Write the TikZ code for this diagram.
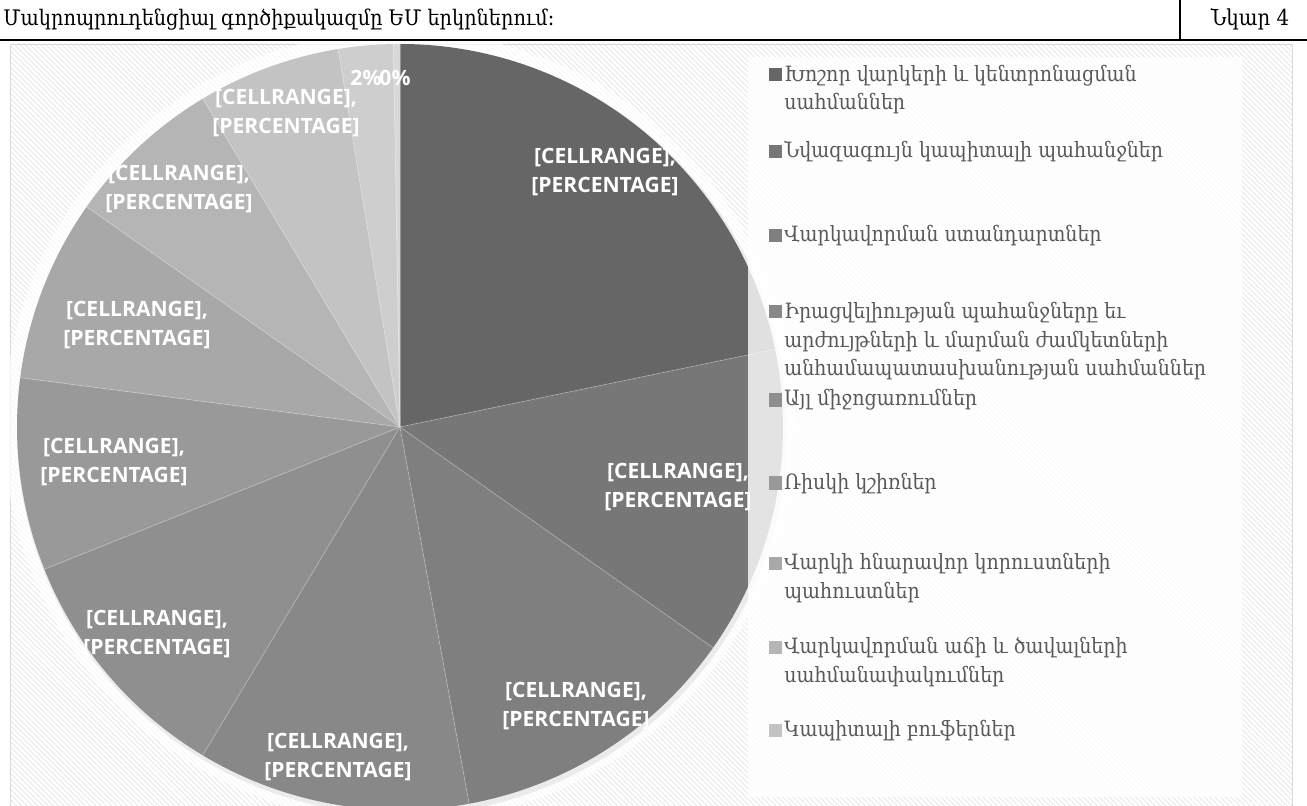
\documentclass[tikz,border=0pt]{standalone}
\usepackage{fontspec}
\setmainfont{DejaVu Serif Condensed}
\newfontfamily\lblfont{Open Sans}
\usetikzlibrary{patterns}

\definecolor{SliceA}{HTML}{666666}
\definecolor{SliceB}{HTML}{777777}
\definecolor{SliceC}{HTML}{7F7F7F}
\definecolor{SliceD}{HTML}{888888}
\definecolor{SliceE}{HTML}{8F8F8F}
\definecolor{SliceF}{HTML}{999999}
\definecolor{SliceG}{HTML}{A8A8A8}
\definecolor{SliceH}{HTML}{B5B5B5}
\definecolor{SliceI}{HTML}{C3C3C3}
\definecolor{SliceJ}{HTML}{CECECE}
\definecolor{SliceK}{HTML}{D8D8D8}
\definecolor{LegText}{HTML}{595959}

\newcommand\cellpct{[CELLRANGE],\\{}[PERCENTAGE]}

\tikzset{
  datalbl/.style={text=white, align=center, inner sep=0pt,
    font=\lblfont\bfseries\fontsize{12}{16.5}\selectfont},
  legsq/.style={minimum size=7.4pt, inner sep=0pt},
  legtxt/.style={text=LegText, align=left, inner sep=0pt, anchor=base west,
    font=\fontsize{12}{16.5}\selectfont}
}

\begin{document}
\begin{tikzpicture}[x=0.02cm, y=0.02cm]
 \useasboundingbox (0,0) rectangle (1307,805);

  %%%%%%%%%% Points to work with %%%%%%%%%%
 \coordinate (C) at (400,378);
 \coordinate (sepTop) at (1180,805);
 \coordinate (sepBot) at (1180,765);
 \coordinate (ruleW) at (0,765);
 \coordinate (ruleE) at (1307,765);

 %%%%%%%%%% Title row %%%%%%%%%%
 \node[anchor=base west, inner sep=0pt, font=\fontsize{12.2}{16}\selectfont] (title) at (3,779) {Մակրոպրուդենցիալ գործիքակազմը ԵՄ երկրներում։};
 \node[anchor=base, inner sep=0pt, font=\fontsize{12.5}{16}\selectfont] (fig) at (1250,779) {Նկար 4};
 \draw [line width=0.6pt] (sepTop) -- (sepBot) ;
 \draw [line width=1.5pt] (ruleW) -- (ruleE) ;

 %%%%%%%%%% Chart area %%%%%%%%%%
 \fill [white] (10,-2) rectangle (1292,761) ;
 \fill [pattern=north west lines, pattern color=black!10] (10,-2) rectangle (1292,761) ;
 \draw [black!15] (10,-2) rectangle (1292,761) ;

 \begin{scope}
 \clip (10,-2) rectangle (1292,761) ;

 %%%%%%%%%% Glow and shadow %%%%%%%%%%
 \fill [white, opacity=0.7] (C) circle (396) ;
 \fill [black!8] (402,375) circle (385) ;

 %%%%%%%%%% Slices %%%%%%%%%%
 \foreach \from/\to/\tone in {90/11.7/SliceA, 11.7/-35.2/SliceB, -35.2/-79.6/SliceC,
   -79.6/-121/SliceD, -121/-158.2/SliceE, -158.2/-187.4/SliceF, -187.4/-215.1/SliceG,
   -215.1/-239/SliceH, -239/-260.7/SliceI, -260.7/-269/SliceJ, -269/-270/SliceK}
 {
   \fill [\tone] (C) -- ++(\from:383) arc[start angle=\from, end angle=\to, radius=383] -- cycle ;
   \draw [white, opacity=0.25, line width=0.5pt] (C) -- ++(\from:383) ;
 }
 \end{scope}

 %%%%%%%%%% Legend %%%%%%%%%%
 \fill [white, opacity=0.8] (748,8) rectangle (1242,748) ;

 \node[legsq, fill=SliceA] (sq1) at (775,730) {};
 \node[legsq, fill=SliceB] (sq2) at (775,653) {};
 \node[legsq, fill=SliceC] (sq3) at (775,569) {};
 \node[legsq, fill=SliceD] (sq4) at (775,493) {};
 \node[legsq, fill=SliceE] (sq5) at (775,405) {};
 \node[legsq, fill=SliceF] (sq6) at (775,322) {};
 \node[legsq, fill=SliceG] (sq7) at (775,242) {};
 \node[legsq, fill=SliceH] (sq8) at (775,158) {};
 \node[legsq, fill=SliceI] (sq9) at (775,75) {};

 % base of a wrapped entry is its last line
 \node[legtxt] (leg1) at (784,695) {Խոշոր վարկերի և կենտրոնացման\\սահմաններ};
 \node[legtxt] (leg2) at (784,647) {Նվազագույն կապիտալի պահանջներ};
 \node[legtxt] (leg3) at (784,563) {Վարկավորման ստանդարտներ};
 \node[legtxt] (leg4) at (784,429) {Իրացվելիության պահանջները եւ\\արժույթների և մարման ժամկետների\\անհամապատասխանության սահմաններ};
 \node[legtxt] (leg5) at (784,399) {Այլ միջոցառումներ};
 \node[legtxt] (leg6) at (784,316) {Ռիսկի կշիռներ};
 \node[legtxt] (leg7) at (784,207) {Վարկի հնարավոր կորուստների\\պահուստներ};
 \node[legtxt] (leg8) at (784,123) {Վարկավորման աճի և ծավալների\\սահմանափակումներ};
 \node[legtxt] (leg9) at (784,69) {Կապիտալի բուֆերներ};

 %%%%%%%%%% Data labels %%%%%%%%%%
 \node[datalbl] (lbl1) at (605,633) {\cellpct};
 \node[datalbl] (lbl2) at (678,318) {\cellpct};
 \node[datalbl] (lbl3) at (576,99) {\cellpct};
 \node[datalbl] (lbl4) at (338,48) {\cellpct};
 \node[datalbl] (lbl5) at (157,171) {\cellpct};
 \node[datalbl] (lbl6) at (114,343) {\cellpct};
 \node[datalbl] (lbl7) at (137,480) {\cellpct};
 \node[datalbl] (lbl8) at (179,616) {\cellpct};
 \node[datalbl] (lbl9) at (286,692) {\cellpct};
 \node[datalbl] (lbl10) at (366,727) {2\%};
 \node[datalbl] (lbl11) at (395,727) {0\%};

\end{tikzpicture}
\end{document}
